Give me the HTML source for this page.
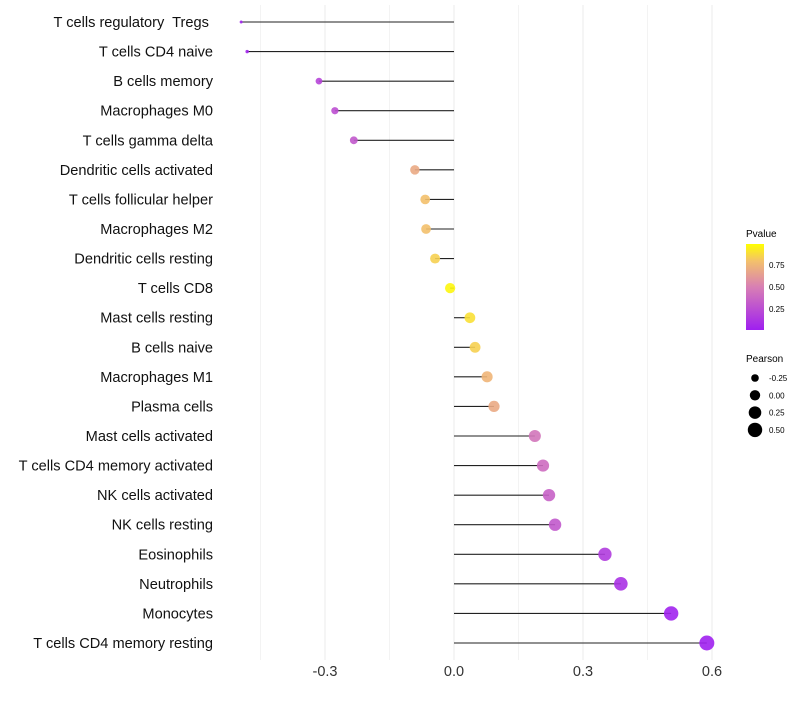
<!DOCTYPE html>
<html><head><meta charset="utf-8"><style>
body{margin:0;background:#fff;font-family:"Liberation Sans",sans-serif}
svg text{font-family:"Liberation Sans",sans-serif}
</style></head><body>
<svg id="c" width="800" height="700" xmlns="http://www.w3.org/2000/svg">
<defs><linearGradient id="pg" x1="0" y1="1" x2="0" y2="0">
<stop offset="0" stop-color="#9f1ff0"/><stop offset="0.5" stop-color="#d87fb4"/><stop offset="0.8" stop-color="#f3c06c"/><stop offset="1" stop-color="#ffff00"/></linearGradient></defs>
<g id="grid"></g><g id="marks"></g><g id="labels"></g>
<g>
<text x="746" y="237" font-size="10">Pvalue</text>
<rect x="746" y="244" width="18" height="86" fill="url(#pg)"/>
<text x="769" y="268" font-size="8">0.75</text>
<text x="769" y="290" font-size="8">0.50</text>
<text x="769" y="312" font-size="8">0.25</text>
</g>
<g id="sizeleg">
<text x="746" y="362" font-size="10">Pearson</text>
</g>
</svg>
<script>
const cats=["T cells regulatory  Tregs ","T cells CD4 naive","B cells memory","Macrophages M0","T cells gamma delta","Dendritic cells activated","T cells follicular helper","Macrophages M2","Dendritic cells resting","T cells CD8","Mast cells resting","B cells naive","Macrophages M1","Plasma cells","Mast cells activated","T cells CD4 memory activated","NK cells activated","NK cells resting","Eosinophils","Neutrophils","Monocytes","T cells CD4 memory resting"];
const pearson=[-0.495,-0.481,-0.314,-0.277,-0.233,-0.091,-0.067,-0.065,-0.044,-0.009,0.037,0.049,0.077,0.093,0.188,0.207,0.221,0.235,0.351,0.388,0.505,0.588];
const pvalue=[0.02,0.03,0.2,0.25,0.3,0.7,0.8,0.8,0.85,0.97,0.9,0.85,0.75,0.7,0.45,0.4,0.35,0.3,0.15,0.1,0.02,0.01];
const xticks=[-0.3,0,0.3,0.6];
const xtickLabels=["-0.3","0.0","0.3","0.6"];
const minor=[-0.45,-0.15,0.15,0.45];
const sizeLegend=[-0.25,0,0.25,0.5];
const sizeLegendLabels=["-0.25","0.00","0.25","0.50"];
const NS="http://www.w3.org/2000/svg";
const X=v=>454+430*v;
const Y=i=>22+i*(643-22)/21;
const pmin=Math.min(...pearson),pmax=Math.max(...pearson);
const R=p=>Math.sqrt(2.25+(56.25-2.25)*Math.max(0,(p-pmin)/(pmax-pmin)));
const stops=[[0,[159,31,240]],[0.5,[216,127,180]],[0.8,[243,192,108]],[1,[255,255,0]]];
function col(p){for(let k=1;k<stops.length;k++){if(p<=stops[k][0]){const a=stops[k-1],b=stops[k];const t=(p-a[0])/(b[0]-a[0]);return "rgb("+a[1].map((c,j)=>Math.round(c+(b[1][j]-c)*t)).join(",")+")";}}return "rgb(255,255,0)";}
function mk(t,attrs,parent){const e=document.createElementNS(NS,t);for(const k in attrs)e.setAttribute(k,attrs[k]);parent.appendChild(e);return e;}
const g=document.getElementById("grid"),m=document.getElementById("marks"),l=document.getElementById("labels");
minor.forEach(v=>{const e=mk("line",{x1:X(v),x2:X(v),y1:5,y2:660,stroke:"#f3f3f3","stroke-width":1},g);

});
xticks.forEach((v,i)=>{const e=mk("line",{x1:X(v),x2:X(v),y1:5,y2:660,stroke:"#ebebeb","stroke-width":1},g);


const t=mk("text",{x:X(v),y:676,"text-anchor":"middle","font-size":14.5,fill:"#333"},l);t.textContent=xtickLabels[i];

});
cats.forEach((c,i)=>{const y=Y(i);
const ln=mk("line",{x1:X(0),x2:X(pearson[i]),y1:y,y2:y,stroke:"#222","stroke-width":1.1},m);


const ci=mk("circle",{cx:X(pearson[i]),cy:y,r:R(pearson[i]),fill:col(pvalue[i]),"fill-opacity":0.9},m);


const t=mk("text",{x:213,y:y+5,"text-anchor":"end","font-size":14.6,fill:"#111","xml:space":"preserve"},l);t.textContent=c;
t.setAttribute('style','white-space:pre');

});
const sl=document.getElementById("sizeleg");
sizeLegend.forEach((v,i)=>{const y=378+i*17.3;
const ci=mk("circle",{cx:755,cy:y,r:R(v),fill:"#000"},sl);


const t=mk("text",{x:769,y:y+3,"font-size":8},sl);t.textContent=sizeLegendLabels[i];

});
</script>
</body></html>
